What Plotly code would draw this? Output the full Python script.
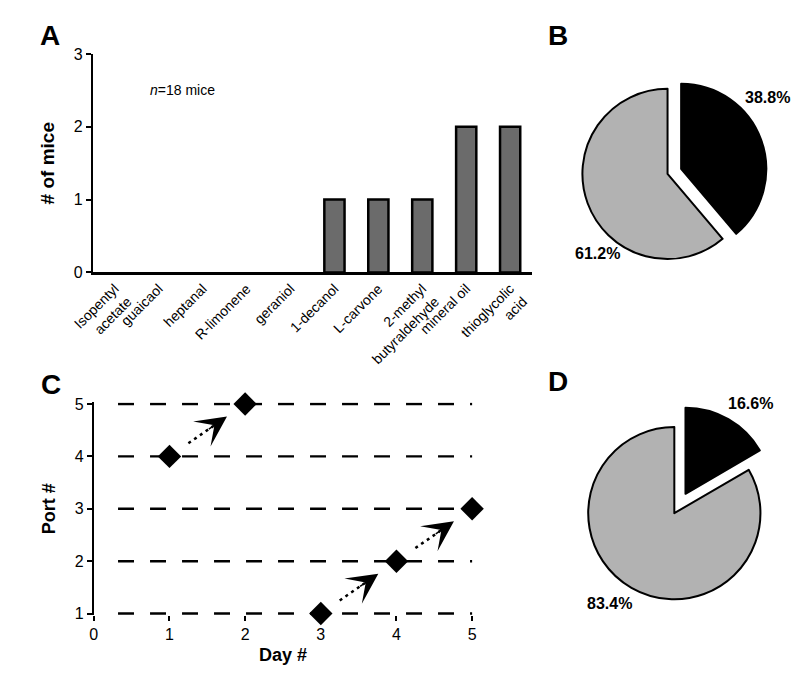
import plotly.graph_objects as go

# ---------------- data ----------------
odors = ["Isopentyl<br>acetate", "guaicaol", "heptanal", "R-limonene", "geraniol",
         "1-decanol", "L-carvone", "2-methyl<br>butyraldehyde", "mineral oil",
         "thioglycolic<br>acid"]
mice_counts = [0, 0, 0, 0, 0, 1, 1, 1, 2, 2]
n_mice = 18

pie_b_labels = ["38.8%", "61.2%"]
pie_b_values = [38.8, 61.2]
pie_d_labels = ["16.6%", "83.4%"]
pie_d_values = [16.6, 83.4]

days = [1, 2, 3, 4, 5]
ports = [4, 5, 1, 2, 3]
transitions = [(0, 1), (2, 3), (3, 4)]   # index pairs of consecutive days joined by an arrow

day_ticks = [0, 1, 2, 3, 4, 5]
port_ticks = [1, 2, 3, 4, 5]
count_ticks = [0, 1, 2, 3]

# ---------------- helpers ----------------
W, H = 800, 676
FONT = "Liberation Sans, Arial, sans-serif"


def fx(p):
    return p / W


def fy(p):
    return 1 - p / H


fig = go.Figure()

# Panel A bars (zero counts drawn as no bar)
fig.add_trace(go.Bar(
    x=odors, y=[v if v > 0 else None for v in mice_counts], width=0.46,
    marker=dict(color="#6b6b6b", line=dict(color="black", width=2.5)),
    xaxis="x", yaxis="y", showlegend=False, hoverinfo="skip"))

# Panel B pie
fig.add_trace(go.Pie(
    values=pie_b_values, labels=pie_b_labels, sort=False, direction="clockwise",
    rotation=0, pull=[0.17, 0], textinfo="none", showlegend=False,
    marker=dict(colors=["black", "#b2b2b2"], line=dict(color="black", width=2)),
    domain=dict(x=[fx(660 - 88 * 1.17), fx(660 + 88 * 1.17)],
                y=[fy(162 + 88 * 1.17), fy(162 - 88 * 1.17)])))

# Panel D pie
fig.add_trace(go.Pie(
    values=pie_d_values, labels=pie_d_labels, sort=False, direction="clockwise",
    rotation=0, pull=[0.26, 0], textinfo="none", showlegend=False,
    marker=dict(colors=["black", "#b2b2b2"], line=dict(color="black", width=2)),
    domain=dict(x=[fx(667 - 89 * 1.26), fx(667 + 89 * 1.26)],
                y=[fy(510 + 89 * 1.26), fy(510 - 89 * 1.26)])))

# Panel C: dashed port lines
shapes = []
for p in port_ticks:
    shapes.append(dict(type="line", xref="x2", yref="y2", x0=0.32, x1=5.02, y0=p, y1=p,
                       line=dict(color="black", width=2.4, dash="16px,16px"), layer="below"))

# Panel C: dotted arrows between consecutive choices
TAIL, TIP, LINE_END, HEAD_BACK = 0.25, 0.76, 0.58, 0.26
annotations = []
for a, b in transitions:
    x0, y0, x1, y1 = days[a], ports[a], days[b], ports[b]
    tx, ty = x0 + TAIL * (x1 - x0), y0 + TAIL * (y1 - y0)
    ex, ey = x0 + LINE_END * (x1 - x0), y0 + LINE_END * (y1 - y0)
    hx, hy = x0 + TIP * (x1 - x0), y0 + TIP * (y1 - y0)
    bx, by = x0 + (TIP - HEAD_BACK) * (x1 - x0), y0 + (TIP - HEAD_BACK) * (y1 - y0)
    fig.add_trace(go.Scatter(
        x=[tx, ex], y=[ty, ey], mode="lines",
        line=dict(color="black", width=2.5, dash="3px,4px"),
        xaxis="x2", yaxis="y2", showlegend=False, hoverinfo="skip", cliponaxis=False))
    annotations.append(dict(
        x=hx, y=hy, ax=bx, ay=by, xref="x2", yref="y2", axref="x2", ayref="y2",
        showarrow=True, arrowhead=3, arrowsize=3.4, arrowwidth=1.5,
        arrowcolor="black", text=""))

# Panel C diamonds
fig.add_trace(go.Scatter(
    x=days, y=ports, mode="markers",
    marker=dict(symbol="diamond", size=18, color="black"),
    xaxis="x2", yaxis="y2", showlegend=False, hoverinfo="skip", cliponaxis=False))

# ---------------- annotations ----------------
def letter(t, cx, cy):
    return dict(text="<b>%s</b>" % t, x=fx(cx), y=fy(cy), xref="paper", yref="paper",
                showarrow=False, font=dict(size=28, color="black", family=FONT),
                xanchor="center", yanchor="middle")


annotations += [letter("A", 22, 20), letter("B", 547, 20),
                letter("C", 23, 378), letter("D", 547, 375)]

annotations.append(dict(text="<i>n</i>=%d mice" % n_mice, x=fx(123), y=fy(76),
                        xref="paper", yref="paper", showarrow=False,
                        xanchor="left", yanchor="middle",
                        font=dict(size=14, color="black", family=FONT)))


def pie_label(t, cx, cy):
    return dict(text="<b>%s</b>" % t, x=fx(cx), y=fy(cy), xref="paper", yref="paper",
                showarrow=False, xanchor="center", yanchor="middle",
                font=dict(size=16, color="black", family=FONT))


annotations += [pie_label(pie_b_labels[0], 763, 84), pie_label(pie_b_labels[1], 588, 244),
                pie_label(pie_d_labels[0], 746, 397), pie_label(pie_d_labels[1], 600, 603)]

axis_common = dict(linecolor="black", linewidth=2, tickcolor="black", tickwidth=2,
                   tickfont=dict(size=16, color="black", family=FONT),
                   zeroline=False, showgrid=False)

fig.update_layout(
    width=W, height=H, margin=dict(l=0, r=0, t=0, b=0),
    paper_bgcolor="white", plot_bgcolor="white",
    font=dict(family=FONT, color="black"),
    xaxis=dict(domain=[fx(66), fx(520)], anchor="y", type="category",
               range=[-0.5, 9.5], showline=True, ticks="", tickangle=-45,
               linecolor="black", linewidth=2.5, showgrid=False, zeroline=False,
               tickfont=dict(size=14, color="black", family=FONT)),
    yaxis=dict(domain=[fy(263), fy(39)], anchor="x", range=[0, 3], tickvals=count_ticks,
               showline=True, ticks="outside", ticklen=5,
               title=dict(text="<b># of mice</b>", standoff=14,
                          font=dict(size=19, color="black", family=FONT)),
               **axis_common),
    xaxis2=dict(domain=[fx(67), fx(458)], anchor="y2", range=[0, 5], tickvals=day_ticks,
                showline=False, ticks="outside", ticklen=5,
                title=dict(text="<b>Day #</b>", standoff=6,
                           font=dict(size=18, color="black", family=FONT)),
                **axis_common),
    yaxis2=dict(domain=[fy(614.6), fy(396.4)], anchor="x2", range=[0.97, 5.03],
                tickvals=port_ticks, showline=True, ticks="outside", ticklen=5,
                title=dict(text="<b>Port #</b>", standoff=14,
                           font=dict(size=18, color="black", family=FONT)),
                **axis_common),
    shapes=shapes,
    annotations=annotations,
)

fig.write_html("out.html")
